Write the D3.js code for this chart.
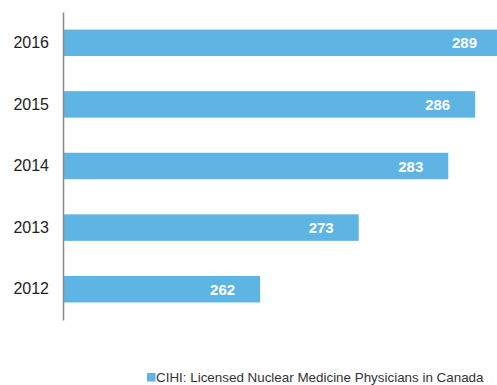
<!DOCTYPE html>
<html>
<head>
<meta charset="utf-8">
<script src="https://cdn.jsdelivr.net/npm/d3@7"></script>
<style>
  html, body { margin: 0; padding: 0; background: #fff; }
  svg { display: block; font-family: "Liberation Sans", Arial, sans-serif; }
</style>
</head>
<body>
<svg id="chart" width="497" height="385"></svg>
<script>
// Licensed nuclear medicine physicians by year
const years = ["2016", "2015", "2014", "2013", "2012"];
const physicians = [289, 286, 283, 273, 262];
const seriesName = "CIHI: Licensed Nuclear Medicine Physicians in Canada";
const valueDomain = [240, 290];

const svg = d3.select("#chart");
const barColor = "#5eb5e4";

const x = d3.scaleLinear().domain(valueDomain).range([63, 511]);
const y = d3.scaleBand().domain(years).range([12, 320]).paddingInner(0.57).paddingOuter(0.285);

const rows = years.map((yr, i) => ({ year: yr, value: physicians[i] }));

// bars
svg.append("g").selectAll("rect").data(rows).join("rect")
  .attr("x", x(valueDomain[0]))
  .attr("y", d => y(d.year))
  .attr("width", d => x(d.value) - x(valueDomain[0]))
  .attr("height", y.bandwidth())
  .attr("fill", barColor);

// value labels inside bars
svg.append("g").selectAll("text").data(rows).join("text")
  .attr("x", d => x(d.value) - 25)
  .attr("y", d => y(d.year) + y.bandwidth() / 2 + 5.5)
  .attr("text-anchor", "end")
  .attr("fill", "#fff")
  .attr("font-weight", "bold")
  .attr("font-size", 15)
  .text(d => d.value);

// category axis
const yAxis = d3.axisLeft(y).tickSize(0).tickPadding(14);
const gy = svg.append("g").attr("transform", `translate(${x(valueDomain[0])},0)`).call(yAxis);
gy.select(".domain").attr("stroke", "#8a8a8a").attr("stroke-width", 1.5);
gy.selectAll("text")
  .attr("font-size", 16)
  .attr("fill", "#222")
  .attr("font-family", "Liberation Sans, Arial, sans-serif");

// legend
const legend = svg.append("g").attr("transform", "translate(147,373)");
legend.append("rect").attr("width", 8.5).attr("height", 8.5).attr("fill", barColor);
legend.append("text")
  .attr("x", 9)
  .attr("y", 8.6)
  .attr("font-size", 13.4)
  .attr("fill", "#333")
  .text(seriesName);
</script>
</body>
</html>
